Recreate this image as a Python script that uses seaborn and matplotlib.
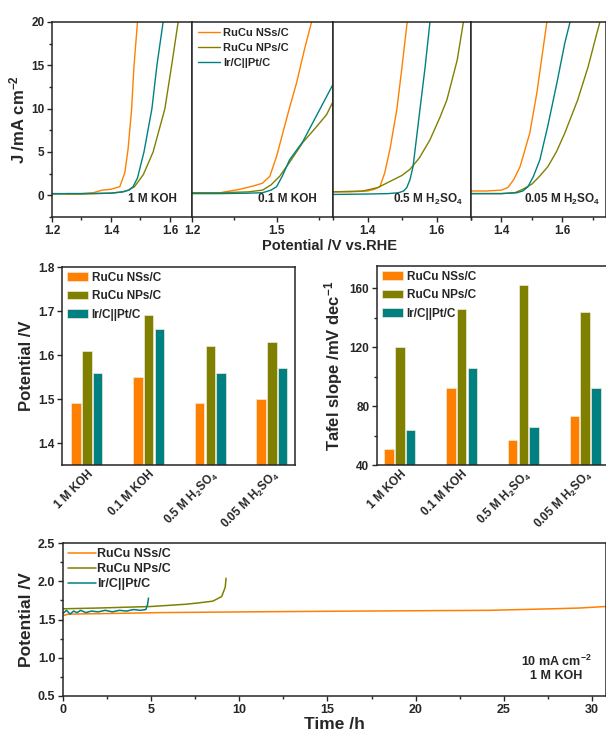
import matplotlib
matplotlib.use("Agg")
import matplotlib.pyplot as plt
from matplotlib.ticker import MultipleLocator
import numpy as np
import pandas as pd
import seaborn as sns

sns.set_theme(style="ticks")
plt.rcParams["font.family"] = ["Liberation Sans", "DejaVu Sans"]
plt.rcParams["font.weight"] = "bold"
plt.rcParams["axes.labelweight"] = "bold"
plt.rcParams["mathtext.fontset"] = "custom"
plt.rcParams["mathtext.bf"] = "Liberation Sans:bold"
plt.rcParams["mathtext.rm"] = "Liberation Sans:bold"
plt.rcParams["mathtext.default"] = "bf"
plt.rcParams["axes.linewidth"] = 1.1

ORANGE, OLIVE, TEAL = "#FF8000", "#808000", "#008080"
names = ["RuCu NSs/C", "RuCu NPs/C", "Ir/C||Pt/C"]
colors = [ORANGE, OLIVE, TEAL]

# ---- LSV curves (V vs RHE, J in mA cm-2) ----
# 1 M KOH
v1_nss = [1.25, 1.30, 1.34, 1.37, 1.40, 1.43, 1.447, 1.458, 1.47, 1.478, 1.49]
j1_nss = [0.2, 0.2, 0.3, 0.6, 0.7, 1.0, 2.6, 5.3, 9.9, 14.8, 20]
v1_nps = [1.20, 1.30, 1.40, 1.44, 1.46, 1.48, 1.51, 1.543, 1.583, 1.606, 1.628]
j1_nps = [0.15, 0.15, 0.25, 0.4, 0.6, 1.0, 2.4, 5.0, 10, 15, 20]
v1_ir = [1.20, 1.30, 1.40, 1.44, 1.46, 1.475, 1.49, 1.512, 1.539, 1.556, 1.577]
j1_ir = [0.2, 0.2, 0.25, 0.4, 0.6, 1.0, 2.0, 5.0, 10, 15, 20]
# 0.1 M KOH
v2_nss = [1.20, 1.30, 1.37, 1.42, 1.45, 1.476, 1.50, 1.522, 1.545, 1.571, 1.60, 1.624]
j2_nss = [0.3, 0.3, 0.7, 1.1, 1.4, 2.2, 4.5, 7.2, 10, 13, 17, 20]
v2_nps = [1.20, 1.30, 1.40, 1.45, 1.48, 1.511, 1.55, 1.593, 1.641, 1.677, 1.70]
j2_nps = [0.3, 0.3, 0.4, 0.6, 1.2, 2.2, 4.0, 6.1, 7.9, 9.3, 10.8]
v2_ir = [1.20, 1.30, 1.40, 1.45, 1.48, 1.50, 1.52, 1.546, 1.593, 1.64, 1.70]
j2_ir = [0.2, 0.2, 0.25, 0.3, 0.6, 1.0, 2.2, 4.1, 6.2, 9.1, 12.8]
# 0.5 M H2SO4
v3_nss = [1.30, 1.35, 1.40, 1.42, 1.436, 1.45, 1.465, 1.485, 1.50, 1.515]
j3_nss = [0.4, 0.4, 0.5, 0.7, 1.0, 2.6, 5.3, 9.9, 14.8, 20]
v3_nps = [1.30, 1.387, 1.43, 1.465, 1.50, 1.523, 1.55, 1.581, 1.61, 1.63, 1.66, 1.678]
j3_nps = [0.4, 0.5, 0.9, 1.6, 2.3, 3.0, 4.3, 6.4, 9.0, 11, 15.6, 20]
v3_ir = [1.30, 1.40, 1.46, 1.49, 1.505, 1.514, 1.523, 1.532, 1.552, 1.567, 1.581]
j3_ir = [0.1, 0.15, 0.2, 0.3, 0.5, 0.9, 1.8, 3.3, 9.9, 14.8, 20]
# 0.05 M H2SO4
v4_nss = [1.30, 1.35, 1.40, 1.421, 1.44, 1.461, 1.493, 1.516, 1.536, 1.549]
j4_nss = [0.5, 0.5, 0.6, 0.9, 1.8, 3.3, 7.2, 11.8, 16.8, 20]
v4_nps = [1.30, 1.40, 1.444, 1.47, 1.50, 1.525, 1.552, 1.58, 1.608, 1.65, 1.684, 1.713, 1.723]
j4_nps = [0.2, 0.2, 0.3, 0.7, 1.3, 2.2, 3.3, 5.0, 7.2, 11, 14.8, 18.7, 20]
v4_ir = [1.30, 1.40, 1.45, 1.47, 1.487, 1.505, 1.526, 1.552, 1.582, 1.608, 1.625]
j4_ir = [0.2, 0.2, 0.3, 0.5, 1.0, 2.2, 4.1, 8.0, 13, 17.6, 20]

# ---- bar data ----
electrolytes = ["1 M KOH", "0.1 M KOH", "0.5 M H$_2$SO$_4$", "0.05 M H$_2$SO$_4$"]
pot_nss = [1.49, 1.55, 1.49, 1.50]
pot_nps = [1.61, 1.69, 1.62, 1.63]
pot_ir = [1.56, 1.66, 1.56, 1.57]
tafel_nss = [51, 92, 57, 73]
tafel_nps = [120, 146, 162, 144]
tafel_ir = [64, 106, 66, 92]

# ---- stability (1 M KOH, 10 mA cm-2) ----
t_nss = [0, 0.3, 3.0, 5.5, 10.5, 16.7, 24.2, 27.7, 29.3, 30.8]
u_nss = [1.55, 1.57, 1.58, 1.59, 1.60, 1.61, 1.62, 1.64, 1.65, 1.67]
t_nps = [0, 2.0, 5.0, 7.0, 7.8, 8.5, 9.0, 9.2, 9.25]
u_nps = [1.64, 1.65, 1.67, 1.70, 1.72, 1.74, 1.80, 1.92, 2.04]
t_ir = [0, 0.2, 0.4, 0.6, 0.8, 1.0, 1.3, 1.6, 2.0, 2.4, 2.8, 3.2, 3.6, 4.0, 4.4, 4.7, 4.8, 4.85]
u_ir = [1.58, 1.62, 1.57, 1.61, 1.59, 1.62, 1.59, 1.61, 1.60, 1.62, 1.60, 1.62, 1.61, 1.63, 1.62, 1.63, 1.70, 1.78]

W, H = 606, 734
fig = plt.figure(figsize=(W / 100, H / 100), dpi=100)


def px_axes(x0, y0, x1, y1):
    return fig.add_axes([x0 / W, 1 - y1 / H, (x1 - x0) / W, (y1 - y0) / H])


def style_ticks(ax, size=8.5):
    ax.tick_params(direction="out", width=1.0, length=3.5, labelsize=size, pad=2)
    ax.tick_params(which="minor", direction="out", width=1.0, length=2)
    for lab in ax.get_xticklabels() + ax.get_yticklabels():
        lab.set_fontweight("bold")


# ---- top row: LSV panels ----
panels = [
    ((52, 192), (1.2, 1.675), 0.2, 0.1, "1 M KOH", 0.54,
     [(v1_nss, j1_nss), (v1_nps, j1_nps), (v1_ir, j1_ir)]),
    ((192, 333), (1.2, 1.70), 0.3, 0.15, "0.1 M KOH", 0.47,
     [(v2_nss, j2_nss), (v2_nps, j2_nps), (v2_ir, j2_ir)]),
    ((333, 471), (1.3, 1.70), 0.2, 0.1, "0.5 M H$_2$SO$_4$", 0.435,
     [(v3_nss, j3_nss), (v3_nps, j3_nps), (v3_ir, j3_ir)]),
    ((471, 606), (1.3, 1.743), 0.2, 0.1, "0.05 M H$_2$SO$_4$", 0.39,
     [(v4_nss, j4_nss), (v4_nps, j4_nps), (v4_ir, j4_ir)]),
]
top_axes = []
for i, ((x0, x1), xlim, maj, mnr, lab, lx, curves) in enumerate(panels):
    ax = px_axes(x0, 22, x1, 217)
    for (v, j), name, c in zip(curves, names, colors):
        sns.lineplot(x=v, y=j, ax=ax, color=c, lw=1.0, label=name,
                     estimator=None, sort=False, legend=False)
    ax.set_xlim(*xlim)
    ax.set_ylim(-2.5, 20)
    ax.xaxis.set_major_locator(MultipleLocator(maj))
    ax.xaxis.set_minor_locator(MultipleLocator(mnr))
    ax.yaxis.set_major_locator(MultipleLocator(5))
    ax.yaxis.set_minor_locator(MultipleLocator(2.5))
    ax.text(lx, 0.09, lab, transform=ax.transAxes, ha="left", va="center",
            fontsize=8.5, fontweight="bold", clip_on=False)
    style_ticks(ax)
    if i > 0:
        ax.tick_params(axis="y", which="both", left=False, labelleft=False)
    else:
        ax.set_ylabel("J /mA cm$^{-2}$", fontsize=12, labelpad=3)
    top_axes.append(ax)

top_axes[1].legend(loc="upper left", frameon=False,
                   prop={"weight": "bold", "size": 8}, handlelength=2.0,
                   handletextpad=0.3, labelspacing=0.45, borderaxespad=0.3,
                   borderpad=0.2)
fig.text(329 / W, 1 - 246 / H, "Potential /V vs.RHE", ha="center", va="center",
         fontsize=10.5, fontweight="bold")

# ---- middle row: bar charts ----
def bar_df(a, b, c):
    return pd.DataFrame({
        "electrolyte": electrolytes * 3,
        "value": list(a) + list(b) + list(c),
        "catalyst": [names[0]] * 4 + [names[1]] * 4 + [names[2]] * 4,
    })


pal = dict(zip(names, colors))
bar_specs = [
    ((62, 267, 295, 465), bar_df(pot_nss, pot_nps, pot_ir), (1.35, 1.8),
     0.1, None, "Potential /V", (-0.405, 3.373)),
    ((377, 266, 608, 465), bar_df(tafel_nss, tafel_nps, tafel_ir), (40, 175),
     40, 20, "Tafel slope /mV dec$^{-1}$", (-0.37, 3.37)),
]
for (x0, y0, x1, y1), df, ylim, maj, mnr, ylab, xlim in bar_specs:
    ax = px_axes(x0, y0, x1, y1)
    sns.barplot(data=df, x="electrolyte", y="value", hue="catalyst",
                hue_order=names, palette=pal, saturation=1, width=0.52, gap=0.1,
                edgecolor="#f4ead8", linewidth=0.5, ax=ax, legend=True)
    ax.set_ylim(*ylim)
    ax.set_xlim(*xlim)
    ax.yaxis.set_major_locator(MultipleLocator(maj))
    if mnr:
        ax.yaxis.set_minor_locator(MultipleLocator(mnr))
    ax.set_xlabel("")
    ax.set_ylabel(ylab, fontsize=12, labelpad=3)
    style_ticks(ax)
    ax.tick_params(axis="x", length=0)
    plt.setp(ax.get_xticklabels(), rotation=45, ha="right",
             rotation_mode="anchor", fontsize=8.5)
    ax.legend(loc="upper left", frameon=False, prop={"weight": "bold", "size": 8.5},
              handlelength=1.8, handleheight=0.75, handletextpad=0.3,
              labelspacing=0.55, borderaxespad=0.2, borderpad=0.2)

# ---- bottom: stability ----
ax = px_axes(63, 543, 606, 696)
for t, u, name, c in zip([t_nss, t_nps, t_ir], [u_nss, u_nps, u_ir], names, colors):
    sns.lineplot(x=t, y=u, ax=ax, color=c, lw=1.1, label=name,
                 estimator=None, sort=False, legend=False)
ax.set_xlim(0, 30.8)
ax.set_ylim(0.5, 2.5)
ax.xaxis.set_major_locator(MultipleLocator(5))
ax.xaxis.set_minor_locator(MultipleLocator(2.5))
ax.yaxis.set_major_locator(MultipleLocator(0.5))
ax.yaxis.set_minor_locator(MultipleLocator(0.25))
ax.set_xlabel("Time /h", fontsize=12.5, labelpad=1)
ax.set_ylabel("Potential /V", fontsize=12.5, labelpad=3)
style_ticks(ax, 9)
ax.legend(loc="upper left", frameon=False, prop={"weight": "bold", "size": 9},
          handlelength=2.2, handletextpad=0.1, labelspacing=0.25,
          borderaxespad=0.2, borderpad=0.2)
ax.text(28.0, 0.87, "10 mA cm$^{-2}$\n1 M KOH", ha="center", va="center",
        fontsize=9, fontweight="bold", linespacing=1.1)

fig.savefig("out.png", dpi=100)
